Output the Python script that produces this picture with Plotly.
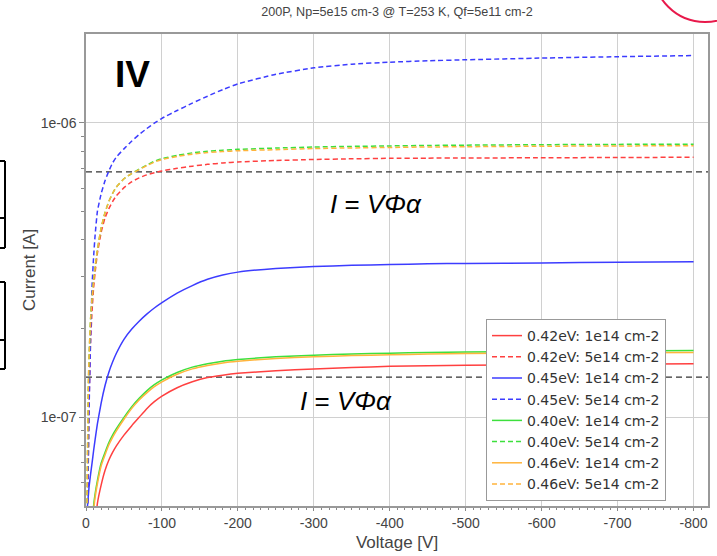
import math
import plotly.graph_objects as go

# ---------------- data ----------------
voltage = [0, -1, -2, -3, -4, -6, -8, -10, -12, -15, -20, -25, -30, -35, -40, -50, -60, -70, -80, -90,
           -100, -120, -140, -160, -180, -200, -250, -300, -350, -400, -450, -500, -600, -700, -800]

red_solid = [None, None, None, None, None, None, None, 2.5e-8, 4.0e-8, 5.1e-8, 5.9e-8, 6.6e-8, 7.15e-8,
             7.6e-8, 8.0e-8, 8.7e-8, 9.35e-8, 1.0e-7, 1.07e-7, 1.13e-7, 1.18e-7, 1.26e-7, 1.32e-7,
             1.365e-7, 1.39e-7, 1.41e-7, 1.44e-7, 1.46e-7, 1.475e-7, 1.49e-7, 1.497e-7, 1.502e-7,
             1.51e-7, 1.515e-7, 1.52e-7]
red_dash = [2e-8, 3e-8, 4.5e-8, 7e-8, 1.1e-7, 1.8e-7, 2.3e-7, 2.75e-7, 3.1e-7, 3.6e-7, 4.25e-7, 4.75e-7,
            5.1e-7, 5.4e-7, 5.65e-7, 6.02e-7, 6.3e-7, 6.5e-7, 6.65e-7, 6.76e-7, 6.86e-7, 7.0e-7, 7.12e-7,
            7.22e-7, 7.3e-7, 7.36e-7, 7.44e-7, 7.5e-7, 7.54e-7, 7.57e-7, 7.58e-7, 7.59e-7, 7.6e-7,
            7.62e-7, 7.63e-7]
blue_solid = [2e-8, 3.5e-8, 5e-8, 5.4e-8, 5.8e-8, 6.4e-8, 7.0e-8, 7.7e-8, 8.4e-8, 9.5e-8, 1.12e-7,
              1.28e-7, 1.42e-7, 1.54e-7, 1.65e-7, 1.84e-7, 1.99e-7, 2.12e-7, 2.24e-7, 2.35e-7, 2.45e-7,
              2.64e-7, 2.8e-7, 2.94e-7, 3.04e-7, 3.11e-7, 3.2e-7, 3.25e-7, 3.28e-7, 3.3e-7, 3.32e-7,
              3.33e-7, 3.34e-7, 3.36e-7, 3.37e-7]
blue_dash = [2e-8, 3e-8, 4.5e-8, 7e-8, 1.05e-7, 1.85e-7, 2.8e-7, 3.5e-7, 4.15e-7, 5.0e-7, 5.75e-7,
             6.35e-7, 6.85e-7, 7.3e-7, 7.65e-7, 8.15e-7, 8.65e-7, 9.12e-7, 9.55e-7, 9.97e-7, 1.035e-6,
             1.1e-6, 1.165e-6, 1.23e-6, 1.295e-6, 1.355e-6, 1.46e-6, 1.535e-6, 1.58e-6, 1.605e-6,
             1.622e-6, 1.635e-6, 1.657e-6, 1.675e-6, 1.69e-6]
green_solid = [None, None, None, None, None, 2e-8, 3.5e-8, 5e-8, 5.5e-8, 6.1e-8, 7.0e-8, 7.6e-8, 8.2e-8,
               8.7e-8, 9.15e-8, 1.0e-7, 1.085e-7, 1.16e-7, 1.23e-7, 1.29e-7, 1.34e-7, 1.42e-7, 1.48e-7,
               1.52e-7, 1.55e-7, 1.57e-7, 1.605e-7, 1.625e-7, 1.64e-7, 1.65e-7, 1.66e-7, 1.665e-7,
               1.673e-7, 1.68e-7, 1.686e-7]
green_dash = [2e-8, 4e-8, 7.5e-8, 1.25e-7, 1.6e-7, 2.15e-7, 2.55e-7, 2.9e-7, 3.25e-7, 3.7e-7, 4.4e-7,
              4.95e-7, 5.4e-7, 5.75e-7, 6.05e-7, 6.45e-7, 6.72e-7, 6.95e-7, 7.18e-7, 7.4e-7, 7.55e-7,
              7.75e-7, 7.9e-7, 8.0e-7, 8.07e-7, 8.12e-7, 8.2e-7, 8.27e-7, 8.31e-7, 8.34e-7, 8.37e-7,
              8.39e-7, 8.42e-7, 8.44e-7, 8.45e-7]
orange_solid = [None, None, None, None, None, 2e-8, 3.3e-8, 4.8e-8, 5.35e-8, 5.95e-8, 6.85e-8, 7.45e-8,
                8.05e-8, 8.55e-8, 9.0e-8, 9.85e-8, 1.07e-7, 1.145e-7, 1.21e-7, 1.27e-7, 1.32e-7, 1.4e-7,
                1.46e-7, 1.5e-7, 1.53e-7, 1.55e-7, 1.585e-7, 1.605e-7, 1.62e-7, 1.63e-7, 1.64e-7,
                1.645e-7, 1.652e-7, 1.657e-7, 1.66e-7]
orange_dash = [2e-8, 4e-8, 7.5e-8, 1.25e-7, 1.6e-7, 2.15e-7, 2.55e-7, 2.9e-7, 3.25e-7, 3.7e-7, 4.4e-7,
               4.95e-7, 5.4e-7, 5.75e-7, 6.05e-7, 6.45e-7, 6.72e-7, 6.93e-7, 7.15e-7, 7.35e-7, 7.5e-7,
               7.68e-7, 7.82e-7, 7.92e-7, 7.98e-7, 8.03e-7, 8.1e-7, 8.17e-7, 8.21e-7, 8.24e-7, 8.27e-7,
               8.29e-7, 8.32e-7, 8.34e-7, 8.35e-7]

series_names = ["0.42eV: 1e14 cm-2", "0.42eV: 5e14 cm-2", "0.45eV: 1e14 cm-2", "0.45eV: 5e14 cm-2",
                "0.40eV: 1e14 cm-2", "0.40eV: 5e14 cm-2", "0.46eV: 1e14 cm-2", "0.46eV: 5e14 cm-2"]
series_values = [red_solid, red_dash, blue_solid, blue_dash, green_solid, green_dash, orange_solid, orange_dash]
series_colors = ["#ff4040", "#ff4040", "#3c3cff", "#3c3cff", "#3de03d", "#3de03d", "#ffb43c", "#ffb43c"]
series_dash = ["solid", "5px,3px", "solid", "5px,3px", "solid", "5px,3px", "solid", "5px,3px"]

ref_levels = [6.81e-7, 1.37e-7]   # I = V Phi alpha levels
ref_span = [0, -819]

x_range = [0, -819]
x_tick_vals = [0, -100, -200, -300, -400, -500, -600, -700, -800]
x_tick_text = ["0", "-100", "-200", "-300", "-400", "-500", "-600", "-700", "-800"]
y_range_vals = [5e-8, 2e-6]
y_tick_vals = [1e-7, 1e-6]
y_tick_text = ["1e-07", "1e-06"]
y_minor_vals = [6e-8, 7e-8, 8e-8, 9e-8, 2e-7, 3e-7, 4e-7, 5e-7, 6e-7, 7e-7, 8e-7, 9e-7]

FONT = "Liberation Sans, Arial, sans-serif"
LEG_FONT = "DejaVu Sans, sans-serif"

fig = go.Figure()
for lvl in ref_levels:
    fig.add_trace(go.Scatter(x=ref_span, y=[lvl, lvl], mode="lines", showlegend=False,
                             line=dict(color="#333333", width=1.3, dash="6px,4px"), hoverinfo="skip"))
for name, vals, col, dsh in zip(series_names, series_values, series_colors, series_dash):
    fig.add_trace(go.Scatter(x=voltage, y=vals, mode="lines", name=name,
                             line=dict(color=col, width=1.5, dash=dsh, shape="spline", smoothing=0.4)))

W, H = 717, 556
L, R, T, B = 86, 9, 34, 50
pw, ph = W - L - R, H - T - B


def px(xp):
    return (xp - L) / pw


def py(yp):
    return (H - B - yp) / ph


fig.update_layout(
    width=W, height=H,
    margin=dict(l=L, r=R, t=T, b=B, autoexpand=False),
    paper_bgcolor="white", plot_bgcolor="white",
    font=dict(family=FONT, color="#444444", size=14),
    title=dict(text="200P, Np=5e15 cm-3 @ T=253 K, Qf=5e11 cm-2", x=0.5, xref="paper",
               y=1 - 12 / H, yref="container", yanchor="middle", xanchor="center",
               font=dict(size=12.6, color="#444444", family=FONT)),
    showlegend=True,
    legend=dict(x=px(666), y=py(501), xanchor="right", yanchor="bottom",
                bgcolor="white", bordercolor="#999999", borderwidth=1,
                font=dict(size=14, color="#333333", family=LEG_FONT),
                tracegroupgap=0, itemwidth=30),
    xaxis=dict(range=x_range, tickmode="array", tickvals=x_tick_vals, ticktext=x_tick_text,
               showgrid=True, gridcolor="#d0d0d0", gridwidth=1,
               zeroline=False, showline=True, linecolor="#999999", linewidth=1.5, mirror=True,
               ticks="outside", ticklen=3, tickcolor="#888888",
               minor=dict(dtick=10, tick0=0, ticks="outside", ticklen=2, tickcolor="#888888", showgrid=False),
               title=dict(text="Voltage [V]", standoff=7, font=dict(size=17, color="#444444")),
               tickfont=dict(size=14, color="#444444"), automargin=False),
    xaxis2=dict(range=x_range, overlaying="x", matches="x", anchor="y", side="bottom",
                dtick=100, tick0=0, ticks="inside", ticklen=3, tickcolor="#888888",
                showticklabels=False, showgrid=False, zeroline=False, showline=False,
                minor=dict(dtick=10, tick0=0, ticks="inside", ticklen=2, tickcolor="#888888", showgrid=False)),
    yaxis=dict(type="log", range=[math.log10(v) for v in y_range_vals], tickmode="array",
               tickvals=y_tick_vals, ticktext=y_tick_text, showgrid=True, gridcolor="#d0d0d0",
               zeroline=False, showline=True, linecolor="#999999", linewidth=1.5, mirror=True,
               ticks="outside", ticklen=5, tickcolor="#888888",
               minor=dict(tickmode="array", tickvals=y_minor_vals, ticks="outside", ticklen=3,
                          tickcolor="#888888", showgrid=False),
               title=dict(text="Current [A]", standoff=1, font=dict(size=17, color="#444444")),
               tickfont=dict(size=14, color="#444444"), automargin=False),
)

fig.add_annotation(x=px(132), y=py(74), xref="paper", yref="paper", text="<b>IV</b>",
                   xanchor="center", yanchor="middle",
                   showarrow=False, font=dict(size=37, color="black", family=FONT))
fig.add_annotation(x=px(376), y=py(204), xref="paper", yref="paper",
                   text="<i>I</i> = <i>VΦα</i>", showarrow=False, xanchor="center", yanchor="middle",
                   font=dict(size=26, color="black", family=FONT))
fig.add_annotation(x=px(346), y=py(401), xref="paper", yref="paper",
                   text="<i>I</i> = <i>VΦα</i>", showarrow=False, xanchor="center", yanchor="middle",
                   font=dict(size=26, color="black", family=FONT))

# slide decorations outside the plot
fig.add_shape(type="circle", xref="paper", yref="paper", x0=px(653), x1=px(757), y0=py(22), y1=py(-82),
              line=dict(color="#e8194b", width=2))
box_lines = [(161, 248, [161, 218, 248]), (282, 369, [282, 340, 369])]
for top, bot, hs in box_lines:
    fig.add_shape(type="line", xref="paper", yref="paper", x0=px(5), x1=px(5), y0=py(top), y1=py(bot),
                  line=dict(color="black", width=2))
    for h in hs:
        fig.add_shape(type="line", xref="paper", yref="paper", x0=px(0), x1=px(5), y0=py(h), y1=py(h),
                      line=dict(color="black", width=2))

fig.write_html("out.html")
